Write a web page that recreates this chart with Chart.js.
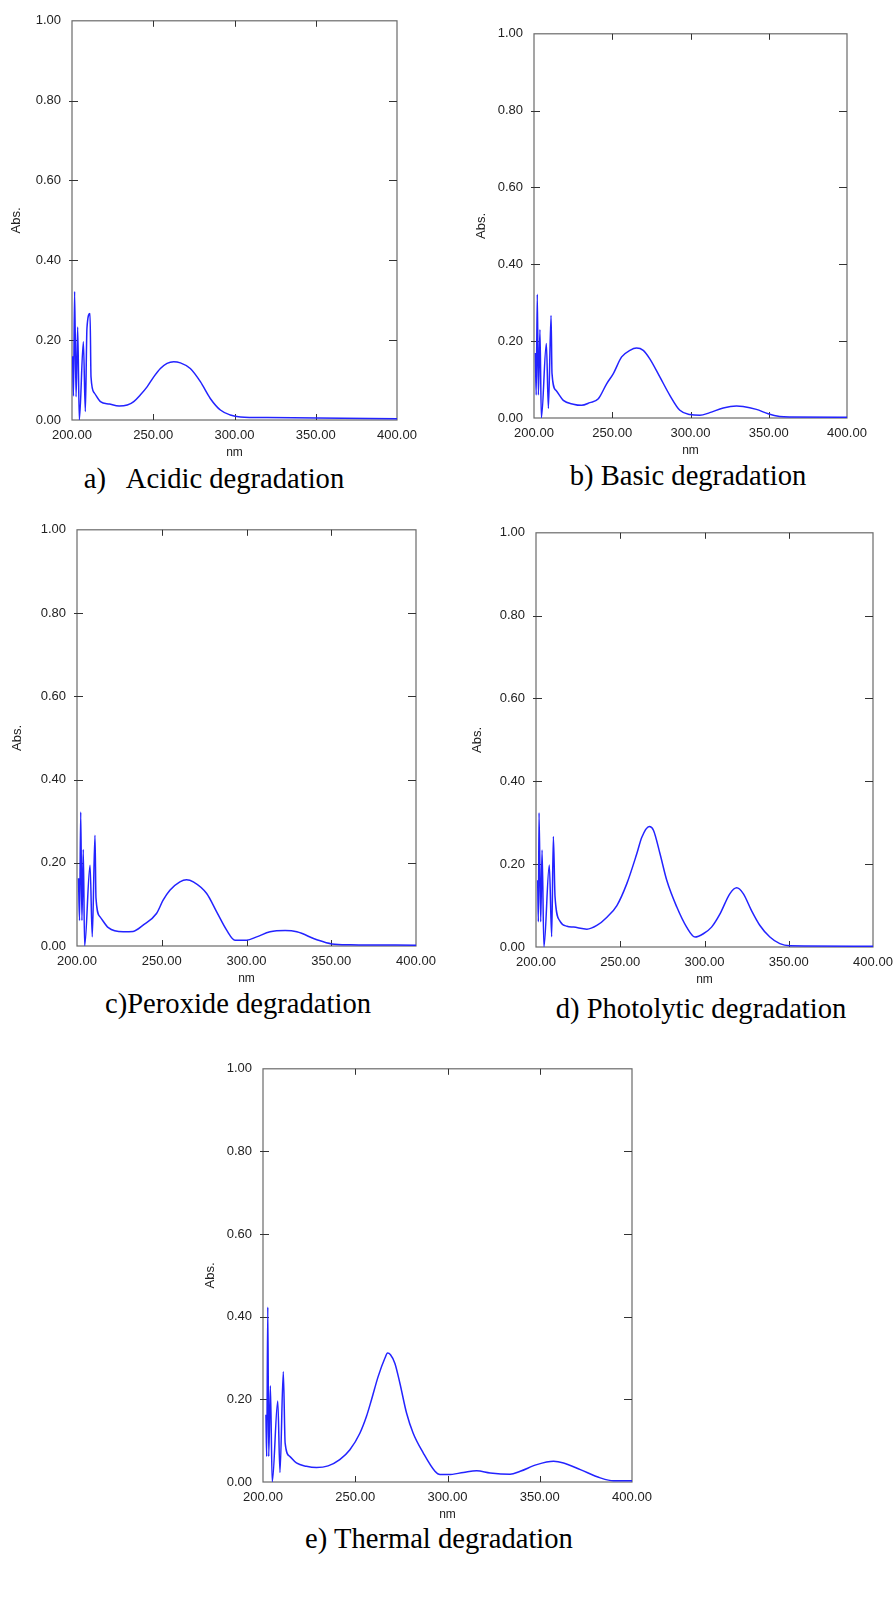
<!DOCTYPE html>
<html>
<head>
<meta charset="utf-8">
<script src="https://cdn.jsdelivr.net/npm/chart.js@4.4.1/dist/chart.umd.min.js"></script>
<style>
  body { margin: 0; background: #fff; width: 895px; height: 1600px; position: relative; overflow: hidden; }
  .box { position: absolute; }
  .cap { position: absolute; width: 400px; text-align: center; white-space: pre;
         font-family: "Liberation Serif", "Times New Roman", serif; font-size: 28.6px; line-height: 28.6px; color: #000; }
</style>
</head>
<body>
<div class="box" style="left:9px;top:10px"><canvas id="chartA" width="418" height="450"></canvas></div>
<div class="box" style="left:474px;top:23px"><canvas id="chartB" width="403" height="435"></canvas></div>
<div class="box" style="left:10px;top:519px"><canvas id="chartC" width="436" height="467"></canvas></div>
<div class="box" style="left:470px;top:522px"><canvas id="chartD" width="425" height="465"></canvas></div>
<div class="box" style="left:203px;top:1058px"><canvas id="chartE" width="459" height="464"></canvas></div>

<div class="cap" style="left:14px;top:465px">a)   Acidic degradation</div>
<div class="cap" style="left:488px;top:462px">b) Basic degradation</div>
<div class="cap" style="left:38px;top:990px">c)Peroxide degradation</div>
<div class="cap" style="left:501px;top:995px">d) Photolytic degradation</div>
<div class="cap" style="left:239px;top:1525px">e) Thermal degradation</div>

<script>
const xTicks = [200, 250, 300, 350, 400];
const yTicks = [0, 0.2, 0.4, 0.6, 0.8, 1.0];

// [wavelength nm, absorbance]
const acidic = [
  [200.4, 0.16], [200.9, 0.06], [201.6, 0.322], [202.5, 0.058], [203.5, 0.233], [204.5, 0],
  [207.0, 0.196], [208.2, 0.021], [209.2, 0.23], [211.1, 0.267], [211.7, 0.108], [213.7, 0.068],
  [217.5, 0.046], [223, 0.04], [229, 0.035], [234, 0.0375], [238, 0.046], [242, 0.0625],
  [246.2, 0.083], [250.3, 0.108], [254.4, 0.129], [258.5, 0.142], [262.6, 0.146], [266.7, 0.143],
  [272.8, 0.129], [279, 0.096], [285.1, 0.054], [291.3, 0.025], [297.4, 0.0125], [303.6, 0.0075],
  [320, 0.006], [350.8, 0.005], [400, 0.003]
];
const basic = [
  [200.9, 0.169], [201.4, 0.06], [202.1, 0.322], [202.8, 0.06], [203.8, 0.23], [204.7, 0],
  [207.9, 0.194], [209.2, 0.025], [210.9, 0.267], [211.5, 0.116], [214, 0.072], [218.7, 0.046],
  [225.1, 0.036], [230.4, 0.033], [235.7, 0.04], [241.1, 0.05], [246.4, 0.089], [250.6, 0.115],
  [256, 0.159], [261.3, 0.176], [265.5, 0.182], [269.8, 0.176], [274, 0.154], [280.4, 0.107],
  [286.8, 0.059], [293.2, 0.02], [299.6, 0.009], [306, 0.007], [312.3, 0.014], [320.9, 0.026],
  [329.4, 0.031], [333.6, 0.03], [342.1, 0.0225], [349.6, 0.011], [357, 0.004], [363.4, 0.0026],
  [400, 0.002]
];
const peroxide = [
  [200.9, 0.163], [201.5, 0.061], [202.2, 0.322], [202.9, 0.061], [203.7, 0.232], [204.5, 0],
  [207.7, 0.194], [209.0, 0.022], [210.6, 0.266], [211.2, 0.115], [213.6, 0.07], [218.5, 0.044],
  [227.2, 0.034], [233.1, 0.035], [239, 0.05], [246.9, 0.078], [250.8, 0.11], [254.8, 0.134],
  [260.7, 0.154], [264.6, 0.159], [268.6, 0.154], [276.5, 0.126], [282.4, 0.082], [288.3, 0.038],
  [293.2, 0.014], [300.1, 0.014], [306, 0.022], [313.9, 0.034], [322.8, 0.037], [329.7, 0.034],
  [341.5, 0.015], [350.3, 0.005], [361.2, 0.003], [400, 0.002]
];
const photolytic = [
  [201.0, 0.161], [201.4, 0.061], [201.8, 0.324], [202.8, 0.061], [203.6, 0.234], [204.7, 0],
  [207.9, 0.198], [209.3, 0.025], [210.3, 0.267], [211.3, 0.121], [214.3, 0.062], [218.4, 0.05],
  [222.3, 0.048], [230.2, 0.043], [236.1, 0.052], [242.1, 0.072], [248, 0.10], [253.9, 0.153],
  [259.8, 0.225], [262.8, 0.265], [267.2, 0.291], [269.7, 0.282], [273.6, 0.225], [277.6, 0.161],
  [283.5, 0.097], [289.4, 0.048], [294.4, 0.024], [299.3, 0.032], [304.2, 0.048], [309.2, 0.08],
  [315.1, 0.129], [319.1, 0.143], [323, 0.129], [327.9, 0.088], [332.9, 0.052], [338.8, 0.024],
  [344.7, 0.008], [350.6, 0.003], [400, 0.002]
];
const thermal = [
  [201.6, 0.163], [202.0, 0.062], [202.6, 0.423], [203.1, 0.062], [204, 0.233], [205, 0],
  [208, 0.196], [209.2, 0.023], [211, 0.267], [212, 0.094], [214.5, 0.062], [218.1, 0.046],
  [223.5, 0.038], [229, 0.035], [235.3, 0.039], [241.6, 0.054], [247.1, 0.078], [252.5, 0.118],
  [256.1, 0.159], [258.8, 0.199], [262.4, 0.255], [266.1, 0.3], [267.5, 0.312], [269.1, 0.308],
  [271.5, 0.287], [274.2, 0.239], [277.8, 0.167], [281.4, 0.118], [286.9, 0.07], [293.2, 0.026],
  [295.9, 0.018], [300.5, 0.018], [308.6, 0.023], [315.8, 0.027], [323.1, 0.022], [333.9, 0.019],
  [339.4, 0.026], [348.4, 0.042], [357.5, 0.05], [362.9, 0.046], [372, 0.03], [382.8, 0.01],
  [390, 0.003], [400, 0.003]
];

const LINE = "rgb(35,35,255)";
const TEXT = "#222";
const SANS = "'Liberation Sans', Arial, sans-serif";

// box frame with inward ticks like the spectrophotometer printout
const frame = {
  id: "frame",
  beforeDatasetsDraw(chart) {
    const { ctx, chartArea: a, scales: { x, y } } = chart;
    ctx.save();
    ctx.strokeStyle = "#6a6a6a";
    ctx.lineWidth = 1.2;
    ctx.strokeRect(a.left, a.top, a.right - a.left, a.bottom - a.top);
    ctx.strokeStyle = "#333";
    ctx.lineWidth = 1;
    ctx.beginPath();
    xTicks.slice(1, -1).forEach(v => {
      const px = Math.round(x.getPixelForValue(v)) + 0.5;
      ctx.moveTo(px, a.bottom); ctx.lineTo(px, a.bottom - 6);
      ctx.moveTo(px, a.top); ctx.lineTo(px, a.top + 6);
    });
    yTicks.slice(1, -1).forEach(v => {
      const py = Math.round(y.getPixelForValue(v)) + 0.5;
      ctx.moveTo(a.left - 3, py); ctx.lineTo(a.left + 6, py);
      ctx.moveTo(a.right, py); ctx.lineTo(a.right - 8, py);
    });
    ctx.stroke();
    ctx.restore();
  }
};

function makeChart(id, points, yWidth, padRight) {
  return new Chart(document.getElementById(id), {
    type: "line",
    data: {
      datasets: [{
        data: points.map(p => ({ x: p[0], y: p[1] })),
        borderColor: LINE,
        borderWidth: 1.5,
        pointRadius: 0,
        cubicInterpolationMode: "monotone",
        fill: false,
      }],
    },
    options: {
      responsive: false,
      animation: false,
      events: [],
      layout: { padding: { left: 0, top: 10, right: padRight, bottom: 0 } },
      plugins: { legend: { display: false }, tooltip: { enabled: false } },
      scales: {
        x: {
          type: "linear", min: 200, max: 400,
          afterBuildTicks: s => { s.ticks = xTicks.map(v => ({ value: v })); },
          afterFit: s => { s.height = 40; },
          grid: { display: false }, border: { display: false },
          ticks: { padding: 0, maxRotation: 0, autoSkip: false, color: TEXT,
                   font: { family: SANS, size: 13 }, callback: v => Number(v).toFixed(2) },
          title: { display: true, text: "nm", color: TEXT, padding: 0, font: { family: SANS, size: 12 } },
        },
        y: {
          min: 0, max: 1,
          afterBuildTicks: s => { s.ticks = yTicks.map(v => ({ value: v })); },
          afterFit: s => { s.width = yWidth; },
          grid: { display: false }, border: { display: false },
          ticks: { padding: 3, color: TEXT, font: { family: SANS, size: 13 },
                   callback: v => Number(v).toFixed(2) },
          title: { display: true, text: "Abs.", color: TEXT, padding: 0, font: { family: SANS, size: 13 } },
        },
      },
    },
    plugins: [frame],
  });
}

makeChart("chartA", acidic, 63, 30);
makeChart("chartB", basic, 60, 30);
makeChart("chartC", peroxide, 67, 30);
makeChart("chartD", photolytic, 66, 22);
makeChart("chartE", thermal, 60, 30);
</script>
</body>
</html>
